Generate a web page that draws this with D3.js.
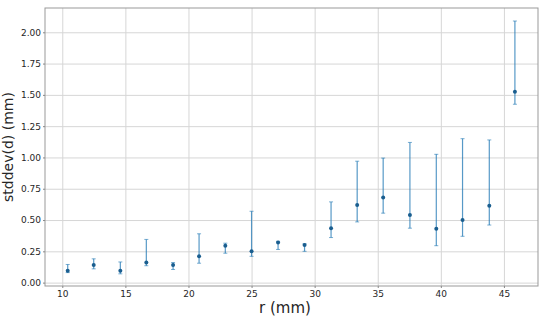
<!DOCTYPE html>
<html>
<head>
<meta charset="utf-8">
<script src="https://cdn.jsdelivr.net/npm/d3@7"></script>
<style>
  body { margin: 0; background: #fff; }
  text { font-family: "DejaVu Sans", sans-serif; }
  .grid line { stroke: #d6d6d6; stroke-width: 1; }
  .grid path { display: none; }
  .axis path { display: none; }
  .axis line { stroke: #888; }
  .axis text { fill: #262626; font-size: 9px; }
</style>
</head>
<body>
<div id="chart"></div>
<script>
// radius of each ring (mm)
let radii = [10.43, 12.49, 14.6, 16.66, 18.78, 20.84, 22.92, 25.0, 27.1, 29.2, 31.3, 33.37, 35.43, 37.55, 39.64, 41.72, 43.84, 45.87];
// stddev(d) estimate and lower / upper bounds
let stdMean = [0.095, 0.14, 0.095, 0.16, 0.14, 0.21, 0.295, 0.25, 0.32, 0.30, 0.435, 0.62, 0.68, 0.54, 0.43, 0.50, 0.615, 1.525];
let stdLow  = [0.08, 0.11, 0.07, 0.135, 0.105, 0.155, 0.235, 0.21, 0.265, 0.25, 0.36, 0.485, 0.555, 0.435, 0.295, 0.37, 0.46, 1.425];
let stdHigh = [0.145, 0.19, 0.165, 0.345, 0.16, 0.39, 0.315, 0.57, 0.33, 0.31, 0.645, 0.97, 0.995, 1.12, 1.025, 1.15, 1.14, 2.09];
let xTicks = [10, 15, 20, 25, 30, 35, 40, 45];
let yTicks = [0, 0.25, 0.5, 0.75, 1.0, 1.25, 1.5, 1.75, 2.0];

let data = radii.map((r, i) => ({r: r, m: stdMean[i], lo: stdLow[i], hi: stdHigh[i]}));

let margin = {top: 8, right: 12, bottom: 35, left: 45};
let width = 550 - margin.left - margin.right;
let height = 321 - margin.top - margin.bottom;

let svg = d3.select("#chart").append("svg")
    .attr("width", 550)
    .attr("height", 321)
    .append("g")
    .attr("transform", "translate(" + margin.left + "," + margin.top + ")");

let x = d3.scaleLinear().domain([8.63, 47.7]).range([0, width]);
let y = d3.scaleLinear().domain([-0.027, 2.194]).range([height, 0]);

// grid
svg.append("g").attr("class", "grid")
    .attr("transform", "translate(0," + height + ")")
    .call(d3.axisBottom(x).tickValues(xTicks).tickSize(-height).tickFormat(""));
svg.append("g").attr("class", "grid")
    .call(d3.axisLeft(y).tickValues(yTicks).tickSize(-width).tickFormat(""));

// frame
svg.append("rect")
    .attr("width", width).attr("height", height)
    .attr("fill", "none").attr("stroke", "#999").attr("stroke-width", 1);

// axes
svg.append("g").attr("class", "axis")
    .attr("transform", "translate(0," + height + ")")
    .call(d3.axisBottom(x).tickValues(xTicks).tickSize(2).tickPadding(3).tickFormat(d3.format("d")));
svg.append("g").attr("class", "axis")
    .call(d3.axisLeft(y).tickValues(yTicks).tickSize(2).tickPadding(2).tickFormat(d3.format(".2f")));

// error bars
let bars = svg.append("g").attr("stroke", "#1f77b4").attr("stroke-opacity", 0.75).attr("stroke-width", 1.2);
bars.selectAll(".err").data(data).enter().append("line")
    .attr("x1", d => x(d.r)).attr("x2", d => x(d.r))
    .attr("y1", d => y(d.lo)).attr("y2", d => y(d.hi));
bars.selectAll(".capHi").data(data).enter().append("line")
    .attr("x1", d => x(d.r) - 2).attr("x2", d => x(d.r) + 2)
    .attr("y1", d => y(d.hi)).attr("y2", d => y(d.hi))
    .attr("stroke-width", 0.8);
bars.selectAll(".capLo").data(data).enter().append("line")
    .attr("x1", d => x(d.r) - 2).attr("x2", d => x(d.r) + 2)
    .attr("y1", d => y(d.lo)).attr("y2", d => y(d.lo))
    .attr("stroke-width", 0.8);

// means
svg.selectAll(".dot").data(data).enter().append("circle")
    .attr("cx", d => x(d.r)).attr("cy", d => y(d.m))
    .attr("r", 2).attr("fill", "#1a5e8f");

// labels
svg.append("text")
    .attr("x", 240).attr("y", height + 27)
    .attr("text-anchor", "middle")
    .attr("font-size", 15).attr("fill", "#262626")
    .text("r (mm)");
svg.append("text")
    .attr("transform", "translate(" + (-32) + "," + (height / 2) + ") rotate(-90)")
    .attr("text-anchor", "middle")
    .attr("font-size", 14).attr("fill", "#262626")
    .text("stddev(d) (mm)");
</script>
</body>
</html>
